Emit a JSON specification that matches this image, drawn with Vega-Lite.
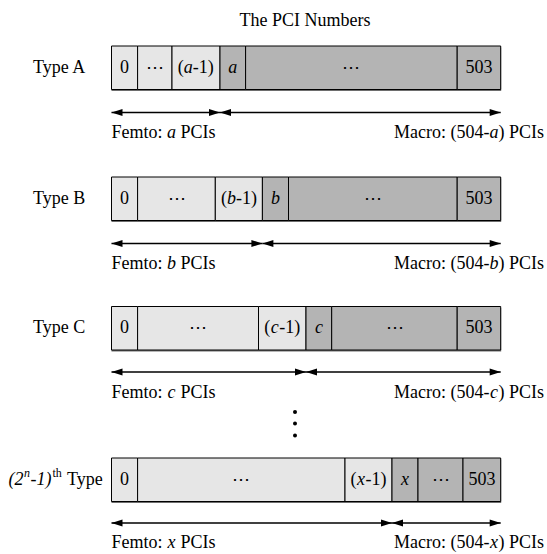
{
  "$schema": "https://vega.github.io/schema/vega-lite/v6.json",
  "width": 547,
  "height": 554,
  "padding": 0,
  "autosize": {"type": "fit", "contains": "padding"},
  "background": "white",
  "config": {"view": {"stroke": null}},
  "datasets": {
    "bars": [
      {"t": "A", "x0": 111.5, "x1": 500.7, "y0": 46, "y1": 89.5},
      {"t": "B", "x0": 111.5, "x1": 500.7, "y0": 177, "y1": 220.5},
      {"t": "C", "x0": 111.5, "x1": 500.7, "y0": 306.5, "y1": 350},
      {"t": "D", "x0": 111.5, "x1": 500.7, "y0": 458, "y1": 501.5}
    ],
    "cells": [
      {"t": "A", "x0": 111.5, "x1": 137.6, "y0": 46, "y1": 89.5, "pool": "Femto"},
      {"t": "A", "x0": 137.6, "x1": 172, "y0": 46, "y1": 89.5, "pool": "Femto"},
      {"t": "A", "x0": 172, "x1": 220, "y0": 46, "y1": 89.5, "pool": "Femto"},
      {"t": "A", "x0": 220, "x1": 245.6, "y0": 46, "y1": 89.5, "pool": "Macro"},
      {"t": "A", "x0": 245.6, "x1": 457.2, "y0": 46, "y1": 89.5, "pool": "Macro"},
      {"t": "A", "x0": 457.2, "x1": 500.7, "y0": 46, "y1": 89.5, "pool": "Macro"},
      {"t": "B", "x0": 111.5, "x1": 137.6, "y0": 177, "y1": 220.5, "pool": "Femto"},
      {"t": "B", "x0": 137.6, "x1": 215.3, "y0": 177, "y1": 220.5, "pool": "Femto"},
      {"t": "B", "x0": 215.3, "x1": 262.4, "y0": 177, "y1": 220.5, "pool": "Femto"},
      {"t": "B", "x0": 262.4, "x1": 288.5, "y0": 177, "y1": 220.5, "pool": "Macro"},
      {"t": "B", "x0": 288.5, "x1": 457.2, "y0": 177, "y1": 220.5, "pool": "Macro"},
      {"t": "B", "x0": 457.2, "x1": 500.7, "y0": 177, "y1": 220.5, "pool": "Macro"},
      {"t": "C", "x0": 111.5, "x1": 137.6, "y0": 306.5, "y1": 350, "pool": "Femto"},
      {"t": "C", "x0": 137.6, "x1": 258.5, "y0": 306.5, "y1": 350, "pool": "Femto"},
      {"t": "C", "x0": 258.5, "x1": 306, "y0": 306.5, "y1": 350, "pool": "Femto"},
      {"t": "C", "x0": 306, "x1": 331.7, "y0": 306.5, "y1": 350, "pool": "Macro"},
      {"t": "C", "x0": 331.7, "x1": 457.2, "y0": 306.5, "y1": 350, "pool": "Macro"},
      {"t": "C", "x0": 457.2, "x1": 500.7, "y0": 306.5, "y1": 350, "pool": "Macro"},
      {"t": "D", "x0": 111.5, "x1": 137.6, "y0": 458, "y1": 501.5, "pool": "Femto"},
      {"t": "D", "x0": 137.6, "x1": 345, "y0": 458, "y1": 501.5, "pool": "Femto"},
      {"t": "D", "x0": 345, "x1": 392, "y0": 458, "y1": 501.5, "pool": "Femto"},
      {"t": "D", "x0": 392, "x1": 418, "y0": 458, "y1": 501.5, "pool": "Macro"},
      {"t": "D", "x0": 418, "x1": 463, "y0": 458, "y1": 501.5, "pool": "Macro"},
      {"t": "D", "x0": 463, "x1": 500.7, "y0": 458, "y1": 501.5, "pool": "Macro"}
    ],
    "arrows": [
      {"t": "A", "pool": "Femto", "xa": 111.5, "xb": 220, "y": 112.5},
      {"t": "A", "pool": "Macro", "xa": 220, "xb": 500.7, "y": 112.5},
      {"t": "B", "pool": "Femto", "xa": 111.5, "xb": 262.4, "y": 243.5},
      {"t": "B", "pool": "Macro", "xa": 262.4, "xb": 500.7, "y": 243.5},
      {"t": "C", "pool": "Femto", "xa": 111.5, "xb": 306, "y": 372},
      {"t": "C", "pool": "Macro", "xa": 306, "xb": 500.7, "y": 372},
      {"t": "D", "pool": "Femto", "xa": 111.5, "xb": 392, "y": 523},
      {"t": "D", "pool": "Macro", "xa": 392, "xb": 500.7, "y": 523}
    ],
    "dots": [
      {"x": 295, "y": 412},
      {"x": 295, "y": 423.5},
      {"x": 295, "y": 435.5}
    ],
    "texts": [
      {"k": "c", "s": "The PCI Numbers", "x": 305, "y": 21},
      {"k": "l", "s": "Type A", "x": 33, "y": 67.75},
      {"k": "l", "s": "Type B", "x": 33, "y": 198.75},
      {"k": "l", "s": "Type C", "x": 33, "y": 328.25},
      {"k": "li", "s": "(2", "x": 8.5, "y": 479.75},
      {"k": "si", "s": "n", "x": 24, "y": 479.75},
      {"k": "li", "s": "-1)", "x": 30.5, "y": 479.75},
      {"k": "s", "s": "th", "x": 52.5, "y": 479.75},
      {"k": "l", "s": "Type", "x": 67, "y": 479.75},

      {"k": "c", "s": "0", "x": 124.5, "y": 67.75},
      {"k": "c", "s": "⋯", "x": 154.8, "y": 67.75},
      {"k": "o", "s": "(", "x": 188.3, "y": 67.75},
      {"k": "v", "s": "a", "x": 188.3, "y": 67.75},
      {"k": "e", "s": "-1)", "x": 188.3, "y": 67.75},
      {"k": "v", "s": "a", "x": 232.8, "y": 67.75},
      {"k": "c", "s": "⋯", "x": 351.4, "y": 67.75},
      {"k": "c", "s": "503", "x": 479, "y": 67.75},

      {"k": "c", "s": "0", "x": 124.5, "y": 198.75},
      {"k": "c", "s": "⋯", "x": 176.5, "y": 198.75},
      {"k": "o", "s": "(", "x": 231.4, "y": 198.75},
      {"k": "v", "s": "b", "x": 231.4, "y": 198.75},
      {"k": "e", "s": "-1)", "x": 231.4, "y": 198.75},
      {"k": "v", "s": "b", "x": 275.5, "y": 198.75},
      {"k": "c", "s": "⋯", "x": 372.9, "y": 198.75},
      {"k": "c", "s": "503", "x": 479, "y": 198.75},

      {"k": "c", "s": "0", "x": 124.5, "y": 328.25},
      {"k": "c", "s": "⋯", "x": 198, "y": 328.25},
      {"k": "o", "s": "(", "x": 274.8, "y": 328.25},
      {"k": "v", "s": "c", "x": 274.8, "y": 328.25},
      {"k": "e", "s": "-1)", "x": 274.8, "y": 328.25},
      {"k": "v", "s": "c", "x": 318.9, "y": 328.25},
      {"k": "c", "s": "⋯", "x": 394.5, "y": 328.25},
      {"k": "c", "s": "503", "x": 479, "y": 328.25},

      {"k": "c", "s": "0", "x": 124.5, "y": 479.75},
      {"k": "c", "s": "⋯", "x": 241.3, "y": 479.75},
      {"k": "o", "s": "(", "x": 361, "y": 479.75},
      {"k": "v", "s": "x", "x": 361, "y": 479.75},
      {"k": "e", "s": "-1)", "x": 361, "y": 479.75},
      {"k": "v", "s": "x", "x": 405, "y": 479.75},
      {"k": "c", "s": "⋯", "x": 440.5, "y": 479.75},
      {"k": "c", "s": "503", "x": 481.9, "y": 479.75},

      {"k": "o2", "s": "Femto:", "x": 171.5, "y": 132.5},
      {"k": "v", "s": "a", "x": 171.5, "y": 132.5},
      {"k": "e2", "s": "PCIs", "x": 171.5, "y": 132.5},
      {"k": "o", "s": "Macro: (504-", "x": 494, "y": 132.5},
      {"k": "v", "s": "a", "x": 494, "y": 132.5},
      {"k": "e", "s": ") PCIs", "x": 494, "y": 132.5},

      {"k": "o2", "s": "Femto:", "x": 171.5, "y": 263.5},
      {"k": "v", "s": "b", "x": 171.5, "y": 263.5},
      {"k": "e2", "s": "PCIs", "x": 171.5, "y": 263.5},
      {"k": "o", "s": "Macro: (504-", "x": 494, "y": 263.5},
      {"k": "v", "s": "b", "x": 494, "y": 263.5},
      {"k": "e", "s": ") PCIs", "x": 494, "y": 263.5},

      {"k": "o2", "s": "Femto:", "x": 171.5, "y": 392.5},
      {"k": "v", "s": "c", "x": 171.5, "y": 392.5},
      {"k": "e2", "s": "PCIs", "x": 171.5, "y": 392.5},
      {"k": "o", "s": "Macro: (504-", "x": 494, "y": 392.5},
      {"k": "v", "s": "c", "x": 494, "y": 392.5},
      {"k": "e", "s": ") PCIs", "x": 494, "y": 392.5},

      {"k": "o2", "s": "Femto:", "x": 171.5, "y": 543},
      {"k": "v", "s": "x", "x": 171.5, "y": 543},
      {"k": "e2", "s": "PCIs", "x": 171.5, "y": 543},
      {"k": "o", "s": "Macro: (504-", "x": 494, "y": 543},
      {"k": "v", "s": "x", "x": 494, "y": 543},
      {"k": "e", "s": ") PCIs", "x": 494, "y": 543}
    ]
  },
  "layer": [
    {
      "data": {"name": "bars"},
      "mark": {"type": "rect", "fill": "#6e6e6e", "yOffset": 1.5, "y2Offset": 1.5, "x2Offset": 0.5},
      "encoding": {
        "x": {"field": "x0", "type": "quantitative", "scale": {"domain": [0, 547], "nice": false, "zero": false}, "axis": null},
        "x2": {"field": "x1"},
        "y": {"field": "y0", "type": "quantitative", "scale": {"domain": [0, 554], "nice": false, "zero": false, "reverse": true}, "axis": null},
        "y2": {"field": "y1"}
      }
    },
    {
      "data": {"name": "cells"},
      "mark": {"type": "rect", "stroke": "black", "strokeWidth": 1},
      "encoding": {
        "x": {"field": "x0", "type": "quantitative", "axis": null},
        "x2": {"field": "x1"},
        "y": {"field": "y0", "type": "quantitative", "axis": null},
        "y2": {"field": "y1"},
        "fill": {"field": "pool", "type": "nominal", "scale": {"domain": ["Femto", "Macro"], "range": ["#e6e6e6", "#b4b4b4"]}, "legend": null}
      }
    },
    {
      "data": {"name": "arrows"},
      "mark": {"type": "rule", "color": "black", "strokeWidth": 1.3},
      "encoding": {
        "x": {"field": "xa", "type": "quantitative", "axis": null},
        "x2": {"field": "xb"},
        "y": {"field": "y", "type": "quantitative", "axis": null}
      }
    },
    {
      "data": {"name": "arrows"},
      "mark": {"type": "point", "filled": true, "color": "black", "opacity": 1, "size": 484, "shape": "M0,0L1,-0.32L1,0.32Z"},
      "encoding": {
        "x": {"field": "xa", "type": "quantitative", "axis": null},
        "y": {"field": "y", "type": "quantitative", "axis": null}
      }
    },
    {
      "data": {"name": "arrows"},
      "mark": {"type": "point", "filled": true, "color": "black", "opacity": 1, "size": 484, "shape": "M0,0L-1,-0.32L-1,0.32Z"},
      "encoding": {
        "x": {"field": "xb", "type": "quantitative", "axis": null},
        "y": {"field": "y", "type": "quantitative", "axis": null}
      }
    },
    {
      "data": {"name": "dots"},
      "mark": {"type": "point", "filled": true, "color": "black", "opacity": 1, "size": 16, "shape": "circle"},
      "encoding": {
        "x": {"field": "x", "type": "quantitative", "axis": null},
        "y": {"field": "y", "type": "quantitative", "axis": null}
      }
    },
    {
      "data": {"name": "texts"},
      "transform": [{"filter": "datum.k === 'c'"}],
      "mark": {"type": "text", "font": "Liberation Serif", "fontSize": 18, "align": "center", "baseline": "middle", "color": "black"},
      "encoding": {
        "x": {"field": "x", "type": "quantitative", "axis": null},
        "y": {"field": "y", "type": "quantitative", "axis": null},
        "text": {"field": "s"}
      }
    },
    {
      "data": {"name": "texts"},
      "transform": [{"filter": "datum.k === 'v'"}],
      "mark": {"type": "text", "font": "Liberation Serif", "fontSize": 18, "fontStyle": "italic", "align": "center", "baseline": "middle", "color": "black"},
      "encoding": {
        "x": {"field": "x", "type": "quantitative", "axis": null},
        "y": {"field": "y", "type": "quantitative", "axis": null},
        "text": {"field": "s"}
      }
    },
    {
      "data": {"name": "texts"},
      "transform": [{"filter": "datum.k === 'o'"}],
      "mark": {"type": "text", "font": "Liberation Serif", "fontSize": 18, "align": "right", "dx": -4.5, "baseline": "middle", "color": "black"},
      "encoding": {
        "x": {"field": "x", "type": "quantitative", "axis": null},
        "y": {"field": "y", "type": "quantitative", "axis": null},
        "text": {"field": "s"}
      }
    },
    {
      "data": {"name": "texts"},
      "transform": [{"filter": "datum.k === 'e'"}],
      "mark": {"type": "text", "font": "Liberation Serif", "fontSize": 18, "align": "left", "dx": 4.5, "baseline": "middle", "color": "black"},
      "encoding": {
        "x": {"field": "x", "type": "quantitative", "axis": null},
        "y": {"field": "y", "type": "quantitative", "axis": null},
        "text": {"field": "s"}
      }
    },
    {
      "data": {"name": "texts"},
      "transform": [{"filter": "datum.k === 'o2'"}],
      "mark": {"type": "text", "font": "Liberation Serif", "fontSize": 18, "align": "right", "dx": -9, "baseline": "middle", "color": "black"},
      "encoding": {
        "x": {"field": "x", "type": "quantitative", "axis": null},
        "y": {"field": "y", "type": "quantitative", "axis": null},
        "text": {"field": "s"}
      }
    },
    {
      "data": {"name": "texts"},
      "transform": [{"filter": "datum.k === 'e2'"}],
      "mark": {"type": "text", "font": "Liberation Serif", "fontSize": 18, "align": "left", "dx": 9, "baseline": "middle", "color": "black"},
      "encoding": {
        "x": {"field": "x", "type": "quantitative", "axis": null},
        "y": {"field": "y", "type": "quantitative", "axis": null},
        "text": {"field": "s"}
      }
    },
    {
      "data": {"name": "texts"},
      "transform": [{"filter": "datum.k === 'l'"}],
      "mark": {"type": "text", "font": "Liberation Serif", "fontSize": 18, "align": "left", "baseline": "middle", "color": "black"},
      "encoding": {
        "x": {"field": "x", "type": "quantitative", "axis": null},
        "y": {"field": "y", "type": "quantitative", "axis": null},
        "text": {"field": "s"}
      }
    },
    {
      "data": {"name": "texts"},
      "transform": [{"filter": "datum.k === 'li'"}],
      "mark": {"type": "text", "font": "Liberation Serif", "fontSize": 18, "fontStyle": "italic", "align": "left", "baseline": "middle", "color": "black"},
      "encoding": {
        "x": {"field": "x", "type": "quantitative", "axis": null},
        "y": {"field": "y", "type": "quantitative", "axis": null},
        "text": {"field": "s"}
      }
    },
    {
      "data": {"name": "texts"},
      "transform": [{"filter": "datum.k === 's'"}],
      "mark": {"type": "text", "font": "Liberation Serif", "fontSize": 12, "align": "left", "baseline": "middle", "dy": -6.5, "color": "black"},
      "encoding": {
        "x": {"field": "x", "type": "quantitative", "axis": null},
        "y": {"field": "y", "type": "quantitative", "axis": null},
        "text": {"field": "s"}
      }
    },
    {
      "data": {"name": "texts"},
      "transform": [{"filter": "datum.k === 'si'"}],
      "mark": {"type": "text", "font": "Liberation Serif", "fontSize": 12, "fontStyle": "italic", "align": "left", "baseline": "middle", "dy": -6.5, "color": "black"},
      "encoding": {
        "x": {"field": "x", "type": "quantitative", "axis": null},
        "y": {"field": "y", "type": "quantitative", "axis": null},
        "text": {"field": "s"}
      }
    }
  ]
}
